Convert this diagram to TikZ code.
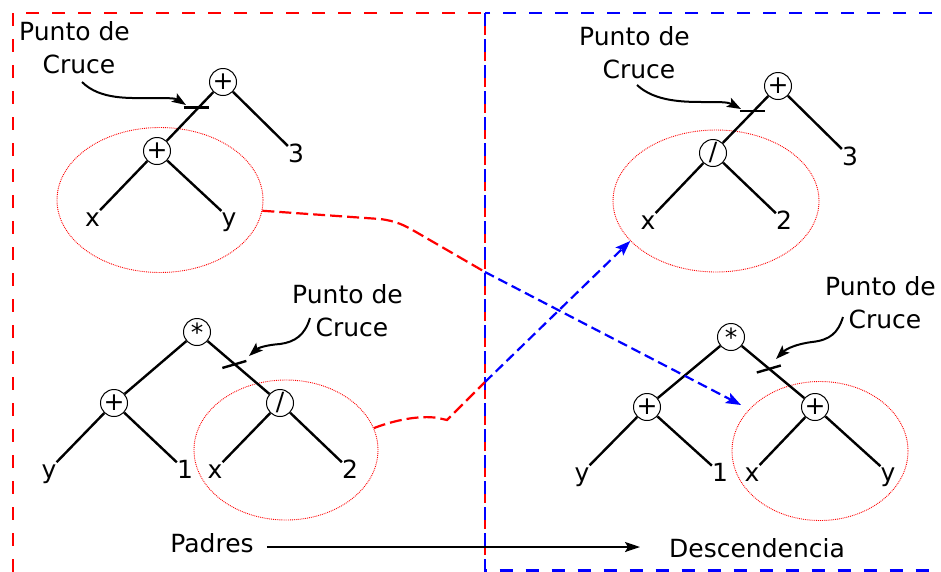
\documentclass[tikz,border=0pt]{standalone}
\usepackage{fontspec}
\setmainfont{DejaVu Sans}
\usetikzlibrary{arrows.meta,shapes.geometric,calc}
\begin{document}
\begin{tikzpicture}[x=1pt,y=-1pt,
  op/.style={circle,draw,line width=1pt,minimum size=27pt,inner sep=0pt,fill=white,font=\fontsize{25}{25}\selectfont},
  br/.style={line width=2.4pt},
  leaf/.style={inner xsep=0pt,inner ysep=0pt,outer ysep=6pt,text height=16pt,text depth=0pt,anchor=base,font=\fontsize{25}{30}\selectfont},
  lbl/.style={align=center,inner sep=0pt,anchor=north,font=\fontsize{25}{33}\selectfont},
  sel/.style={ellipse,draw=red,densely dotted,line width=0.9pt,inner sep=0pt},
  pointer/.style={line width=2pt,-{Stealth[length=14pt,width=10pt,inset=3pt]}},
  tickmark/.style={line width=2.4pt},
  redbox/.style={draw=red,line width=2.2pt,dash pattern=on 13pt off 13pt},
  bluebox/.style={draw=blue,line width=2.2pt,dash pattern=on 13pt off 13pt},
  redx/.style={draw=red,line width=2.2pt,dash pattern=on 12pt off 5pt},
  bluex/.style={draw=blue,line width=2.2pt,dash pattern=on 10pt off 5pt,-{Stealth[length=15pt,width=11pt,inset=3pt]}},
  main/.style={font=\fontsize{25}{30}\selectfont,inner sep=0pt,anchor=base}
]
\useasboundingbox (0,0) rectangle (941,571);
\clip (0,0) rectangle (941,571);

% frames
\draw[redbox] (13,13) rectangle (485,620);
\draw[bluebox] (485,13) rectangle (970,570.5);

% selection ellipses
\node[sel,minimum width=206pt,minimum height=145pt] (e1) at (160,200) {};
\node[sel,minimum width=206pt,minimum height=142pt] (e2) at (716,201) {};
\node[sel,minimum width=184pt,minimum height=140pt] (e3) at (286,450) {};
\node[sel,minimum width=176pt,minimum height=139pt] (e4) at (820,451) {};

% ---- tree 1 (top left)
\node[op] (r1) at (223,82) {+};
\node[op] (p1) at (157,151) {+};
\node[leaf] (l1x) at (92.5,226) {x};
\node[leaf] (l1y) at (229,226) {y};
\node[leaf] (l13) at (296,162) {3};
\draw[br] (r1) -- (p1);
\draw[br] (r1) -- (l13);
\draw[br] (p1) -- (l1x);
\draw[br] (p1) -- (l1y);
\coordinate (c1) at ($(r1)!0.37!(p1)$);
\draw[tickmark] ($(c1)+(-15,0)$) -- ($(c1)+(10,0)$);
\node[lbl] (t1lab) at (74.5,21) {Punto de\\\hspace*{9pt}Cruce};
\coordinate (s1) at (82,82);
\draw[pointer] (s1) .. controls (100,100) and (130,98) .. (150,98) .. controls (165,98) and (175,98) .. (186,105);

% ---- tree 2 (top right)
\node[op] (r2) at (778,86) {+};
\node[op] (p2) at (713,153) {/};
\node[leaf] (l2x) at (648,229) {x};
\node[leaf] (l22) at (784,229) {2};
\node[leaf] (l23) at (850,165) {3};
\draw[br] (r2) -- (p2);
\draw[br] (r2) -- (l23);
\draw[br] (p2) -- (l2x);
\draw[br] (p2) -- (l22);
\coordinate (c2) at ($(r2)!0.37!(p2)$);
\draw[tickmark] ($(c2)+(-14,0)$) -- ($(c2)+(11,0)$);
\node[lbl] (t2lab) at (634.5,26) {Punto de\\\hspace*{9pt}Cruce};
\coordinate (s2) at (637,85);
\draw[pointer] (s2) .. controls (655,102) and (685,102) .. (705,102) .. controls (720,102) and (728,102) .. (741,109);

% ---- tree 3 (bottom left)
\node[op] (r3) at (197,332) {*};
\node[op] (p3) at (114,403) {+};
\node[op] (q3) at (280,403) {/};
\node[leaf] (l3y) at (49,478) {y};
\node[leaf] (l31) at (185,478) {1};
\node[leaf] (l3x) at (215,478) {x};
\node[leaf] (l32) at (350,478) {2};
\draw[br] (r3) -- (p3);
\draw[br] (r3) -- (q3);
\draw[br] (p3) -- (l3y);
\draw[br] (p3) -- (l31);
\draw[br] (q3) -- (l3x);
\draw[br] (q3) -- (l32);
\coordinate (c3) at ($(r3)!0.45!(q3)$);
\draw[tickmark] ($(c3)+(-12,4)$) -- ($(c3)+(12,-3)$);
\node[lbl] (t3lab) at (347.5,284) {Punto de\\\hspace*{9pt}Cruce};
\coordinate (s3) at (310,318);
\draw[pointer] (s3) .. controls (305,335) and (295,342) .. (280,344) .. controls (266,345) and (258,348) .. (249,356);

% ---- tree 4 (bottom right)
\node[op] (r4) at (731,337) {*};
\node[op] (p4) at (647,407) {+};
\node[op] (q4) at (815,407) {+};
\node[leaf] (l4y) at (582,481) {y};
\node[leaf] (l41) at (720,481) {1};
\node[leaf] (l4x) at (752,481) {x};
\node[leaf] (l4y2) at (888,481) {y};
\draw[br] (r4) -- (p4);
\draw[br] (r4) -- (q4);
\draw[br] (p4) -- (l4y);
\draw[br] (p4) -- (l41);
\draw[br] (q4) -- (l4x);
\draw[br] (q4) -- (l4y2);
\coordinate (c4) at ($(r4)!0.45!(q4)$);
\draw[tickmark] ($(c4)+(-12,4)$) -- ($(c4)+(12,-3)$);
\node[lbl] (t4lab) at (880.5,276) {Punto de\\\hspace*{9pt}Cruce};
\coordinate (s4) at (843,317);
\draw[pointer] (s4) .. controls (838,333) and (830,340) .. (812,342) .. controls (796,344) and (786,349) .. (776,359);

% ---- crossover exchanges
\coordinate (m1) at (485,272);
\coordinate (tip1) at (741,405);
\draw[redx] (e1.-6) -- (380,219) .. controls (396,221) and (404,225) .. (416,232) -- (m1);
\draw[bluex] (m1) -- (tip1);

\coordinate (m2) at (485,382);
\draw[redx] (e3.14) .. controls (395,420) and (420,415) .. (438,418) -- (447,420) -- (m2);
\draw[bluex] (m2) -- (e2.205);

% ---- legend
\node[main] (pad) at (212,552) {Padres};
\node[main] (desc) at (757,557) {Descendencia};
\coordinate (ae) at (640,547);
\draw[line width=2pt,-{Stealth[length=15pt,width=10pt,inset=3pt]}] (pad.east |- ae) ++(13,0) -- (ae);
\end{tikzpicture}
\end{document}
